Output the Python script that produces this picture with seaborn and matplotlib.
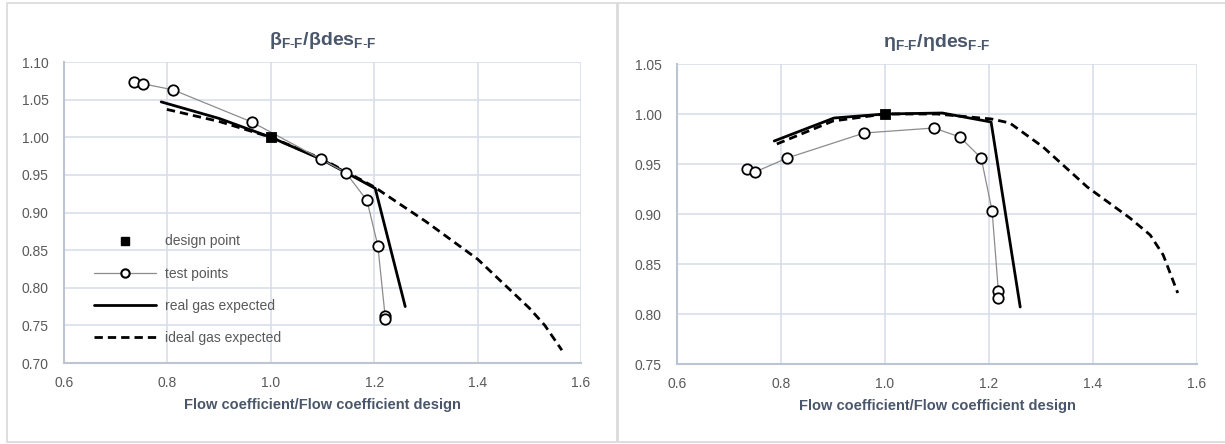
import numpy as np
import pandas as pd
import matplotlib.pyplot as plt
import seaborn as sns
from matplotlib.patches import Rectangle
from matplotlib.lines import Line2D

# ---- data ----
design_x = [1.0]
design_beta = [1.0]
design_eta = [1.0]

test_x_beta = [0.735, 0.753, 0.811, 0.964, 1.097, 1.145, 1.186, 1.207, 1.221, 1.221]
test_beta = [1.074, 1.071, 1.063, 1.020, 0.971, 0.953, 0.916, 0.856, 0.763, 0.758]

real_x_beta = [0.788, 0.9, 1.0, 1.1, 1.202, 1.260]
real_beta = [1.047, 1.025, 1.0, 0.970, 0.932, 0.775]

ideal_x_beta = [0.799, 0.9, 1.0, 1.1, 1.2, 1.3, 1.4, 1.5, 1.53, 1.563]
ideal_beta = [1.037, 1.021, 1.0, 0.971, 0.934, 0.888, 0.838, 0.773, 0.750, 0.717]

test_x_eta = [0.735, 0.750, 0.812, 0.960, 1.094, 1.144, 1.185, 1.206, 1.218, 1.218]
test_eta = [0.945, 0.942, 0.956, 0.981, 0.986, 0.977, 0.956, 0.903, 0.823, 0.816]

real_x_eta = [0.787, 0.902, 1.0, 1.110, 1.204, 1.260]
real_eta = [0.973, 0.996, 1.0, 1.001, 0.992, 0.807]

ideal_x_eta = [0.792, 0.9, 1.0, 1.1, 1.205, 1.24, 1.304, 1.389, 1.471, 1.510, 1.535, 1.563]
ideal_eta = [0.970, 0.993, 1.0, 1.0, 0.995, 0.991, 0.967, 0.927, 0.896, 0.879, 0.859, 0.821]

x_label = "Flow coefficient/Flow coefficient design"
titles = [r"$\mathbf{β_{F\text{-}F}/βdes_{F\text{-}F}}$",
          r"$\mathbf{η_{F\text{-}F}/ηdes_{F\text{-}F}}$"]

sns.set_theme(style="white")
plt.rcParams['font.family'] = ['Liberation Sans', 'DejaVu Sans']
plt.rcParams['mathtext.fontset'] = 'custom'
plt.rcParams['mathtext.rm'] = 'Liberation Sans'
plt.rcParams['mathtext.bf'] = 'Liberation Sans:bold'
plt.rcParams['mathtext.it'] = 'Liberation Sans:italic'

grid_c = "#d9dee8"
spine_c = "#bcc5d3"
tick_c = "#595959"
title_c = "#4a566a"

fig = plt.figure(figsize=(12.25, 4.44), dpi=100)
W, H = 1225, 444
fig.patches.append(Rectangle((7 / W, 1 - 442 / H), 610 / W, 439 / H, transform=fig.transFigure,
                             fill=False, edgecolor="#d9d9d9", linewidth=1.2))
fig.patches.append(Rectangle((618 / W, 1 - 442 / H), 620 / W, 439 / H, transform=fig.transFigure,
                             fill=False, edgecolor="#d9d9d9", linewidth=1.2))

ax1 = fig.add_axes([64 / W, 1 - 363 / H, 517 / W, 301 / H])
ax2 = fig.add_axes([677 / W, 1 - 364 / H, 520 / W, 300 / H])


def draw(ax, tx, ty, rx, ry, ix, iy, dy, title, ylim, yticks):
    sns.lineplot(x=ix, y=iy, ax=ax, sort=False, color="black", linewidth=2,
                 linestyle=(0, (3, 1.8)), estimator=None)
    sns.lineplot(x=rx, y=ry, ax=ax, sort=False, color="black", linewidth=2, estimator=None)
    sns.lineplot(x=tx, y=ty, ax=ax, sort=False, color="#8c8c8c", linewidth=0.9, estimator=None,
                 marker="o", markersize=7.5, markerfacecolor="white",
                 markeredgecolor="black", markeredgewidth=1.3)
    sns.scatterplot(x=design_x, y=dy, ax=ax, marker="s", s=55, color="black",
                    edgecolor="black", zorder=5)
    ax.set_xlim(0.6, 1.6)
    ax.set_ylim(*ylim)
    ax.set_xticks([0.6, 0.8, 1.0, 1.2, 1.4, 1.6])
    ax.set_xticklabels(["0.6", "0.8", "1.0", "1.2", "1.4", "1.6"])
    ax.set_yticks(yticks)
    ax.set_yticklabels([f"{v:.2f}" for v in yticks])
    ax.grid(True, color=grid_c, linewidth=1.2)
    ax.set_axisbelow(True)
    for s in ["top", "right"]:
        ax.spines[s].set_visible(False)
    for s in ["left", "bottom"]:
        ax.spines[s].set_color(spine_c)
        ax.spines[s].set_linewidth(1.5)
    ax.tick_params(axis="both", length=0, labelsize=10, labelcolor=tick_c)
    ax.tick_params(axis="x", pad=9)
    ax.tick_params(axis="y", pad=11)
    ax.set_xlabel(x_label, fontsize=10.5, fontweight="bold", color=title_c, labelpad=6)
    ax.set_ylabel("")
    ax.set_title(title, fontsize=14, color=title_c, pad=12)


draw(ax1, test_x_beta, test_beta, real_x_beta, real_beta, ideal_x_beta, ideal_beta,
     design_beta, titles[0], (0.70, 1.10), np.round(np.arange(0.70, 1.101, 0.05), 2))
draw(ax2, test_x_eta, test_eta, real_x_eta, real_eta, ideal_x_eta, ideal_eta,
     design_eta, titles[1], (0.75, 1.05), np.round(np.arange(0.75, 1.051, 0.05), 2))

handles = [
    Line2D([], [], linestyle="none", marker="s", markersize=6, color="black"),
    Line2D([], [], color="#8c8c8c", linewidth=0.9, marker="o", markersize=6,
           markerfacecolor="white", markeredgecolor="black", markeredgewidth=1.5),
    Line2D([], [], color="black", linewidth=2),
    Line2D([], [], color="black", linewidth=2, linestyle=(0, (3, 1.8))),
]
labels = ["design point", "test points", "real gas expected", "ideal gas expected"]
leg = ax1.legend(handles, labels, loc="upper left", bbox_to_anchor=(0.058, 0.427), frameon=False,
                 fontsize=10, handlelength=4.5, handletextpad=0.6, labelspacing=1.3,
                 borderpad=0, borderaxespad=0)
for t in leg.get_texts():
    t.set_color(tick_c)

fig.savefig("out.png", dpi=100)
